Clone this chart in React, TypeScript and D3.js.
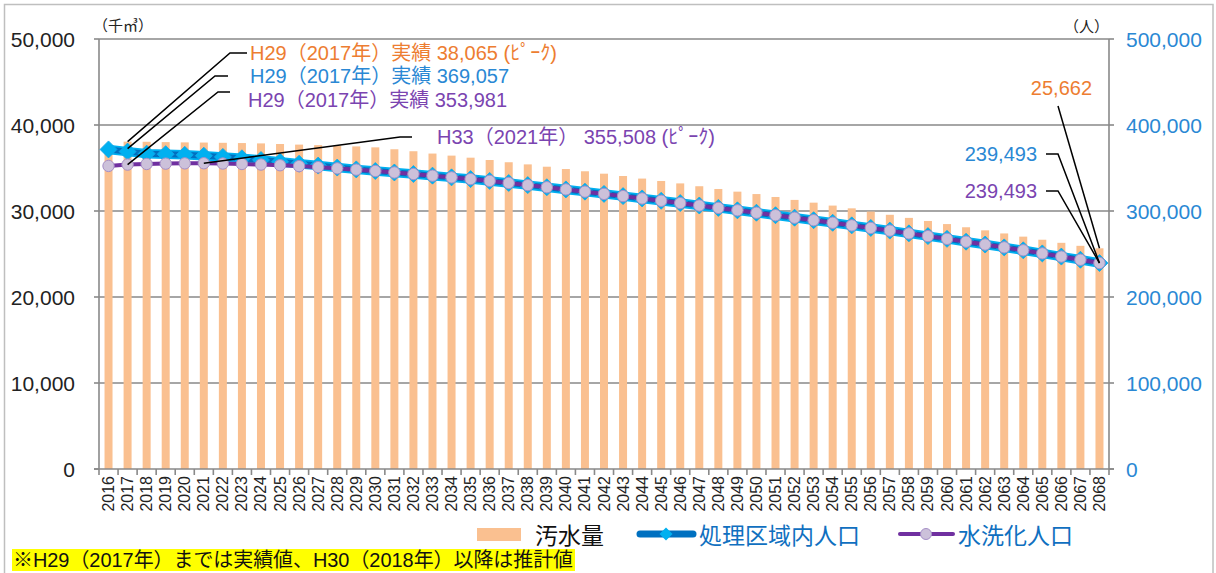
import React from 'react';
import * as d3 from 'd3';

const years = [
  '2016','2017','2018','2019','2020','2021','2022','2023','2024','2025',
  '2026','2027','2028','2029','2030','2031','2032','2033','2034','2035',
  '2036','2037','2038','2039','2040','2041','2042','2043','2044','2045',
  '2046','2047','2048','2049','2050','2051','2052','2053','2054','2055',
  '2056','2057','2058','2059','2060','2061','2062','2063','2064','2065',
  '2066','2067','2068'
];

// 汚水量 (千㎥)
const sewage = [
  37600, 38065, 38050, 38010, 37980, 37960, 37930, 37900, 37860, 37790,
  37720, 37660, 37590, 37510, 37400, 37180, 36950, 36680, 36440, 36200,
  35930, 35670, 35420, 35150, 34880, 34620, 34340, 34070, 33770, 33490,
  33210, 32880, 32560, 32250, 31970, 31630, 31290, 30970, 30630, 30310,
  29930, 29560, 29200, 28840, 28480, 28110, 27750, 27390, 27020, 26660,
  26300, 25950, 25662
];

// 処理区域内人口 (人)
const servicePop = [
  371600, 369057, 366700, 366100, 365300, 364300, 362900, 361300, 359300, 357200,
  355000, 352800, 350500, 348400, 346500, 344800, 343000, 341100, 339100, 337100,
  335000, 332600, 330100, 327600, 325100, 322500, 319900, 317300, 314600, 311900,
  309200, 306400, 303600, 300800, 298000, 295100, 292200, 289300, 286300, 283300,
  280300, 277200, 274000, 270800, 267600, 264300, 261000, 257700, 254300, 250700,
  247000, 243300, 239493
];

// 水洗化人口 (人)
const flushPop = [
  352400, 353981, 354700, 355100, 355400, 355508, 355200, 354700, 354000, 353200,
  352200, 351000, 349600, 348100, 346500, 344800, 343000, 341100, 339100, 337100,
  335000, 332600, 330100, 327600, 325100, 322500, 319900, 317300, 314600, 311900,
  309200, 306400, 303600, 300800, 298000, 295100, 292200, 289300, 286300, 283300,
  280300, 277200, 274000, 270800, 267600, 264300, 261000, 257700, 254300, 250700,
  247000, 243300, 239493
];

const leftTicks = [0, 10000, 20000, 30000, 40000, 50000];
const rightTicks = [0, 100000, 200000, 300000, 400000, 500000];

const C = {
  bar: '#fac090',
  grid: '#898989',
  orange: '#ed7d31',
  blueText: '#2a88d4',
  purpleText: '#7a44b0',
  lineBlue: '#0070c0',
  lightBlue: '#00b0f0',
  purple: '#7030a0',
  lavender: '#ccc1da',
  legendBlue: '#1070c0',
};

const NUM = '"Liberation Sans", Arial, "Noto Sans CJK JP", sans-serif';
const JP = '"Liberation Sans", Arial, "Noto Sans CJK JP", sans-serif';
const JPONLY = '"Noto Sans CJK JP", sans-serif';

export default function App() {
  const W = 1216, H = 573;
  const x = d3.scaleBand<string>().domain(years).range([99, 1109]).padding(0);
  const yL = d3.scaleLinear().domain([0, 50000]).range([469, 39]);
  const yR = d3.scaleLinear().domain([0, 500000]).range([469, 39]);
  const bw = x.bandwidth();
  const cx = (i: number) => (x(years[i]) as number) + bw / 2;
  const fmt = d3.format(',');
  const barW = 8;

  const lineR = d3.line<number>().x((_, i) => cx(i)).y((d) => yR(d));
  const dPath = (px: number, py: number, r: number) =>
    `M${px},${py - r}L${px + r},${py}L${px},${py + r}L${px - r},${py}Z`;

  const last = years.length - 1;

  return (
    <svg width={W} height={H} style={{ position: 'absolute', left: 0, top: 0, background: '#fff' }}>
      <rect x={0} y={0} width={W} height={H} fill="#fff" />
      <rect x={4.5} y={4.5} width={1208.5} height={590} fill="none" stroke="#bfbfbf" strokeWidth={1.5} />

      {/* units */}
      <text x={93} y={24} fontSize={15} fontFamily={JPONLY} dominantBaseline="central" fill="#222">（千㎥）</text>
      <text x={1064} y={25} fontSize={15} fontFamily={JPONLY} dominantBaseline="central" fill="#222">（人）</text>

      {/* gridlines */}
      {leftTicks.filter((t) => t > 0).map((t) => (
        <line key={'g' + t} x1={99} x2={1109} y1={yL(t)} y2={yL(t)} stroke={C.grid} strokeWidth={1.6} />
      ))}

      {/* left axis */}
      <line x1={99} x2={99} y1={yL(50000)} y2={yL(0)} stroke={C.grid} strokeWidth={1.6} />
      {leftTicks.map((t) => (
        <g key={'l' + t}>
          <line x1={94} x2={99} y1={yL(t)} y2={yL(t)} stroke={C.grid} strokeWidth={1.6} />
          <text x={75} y={yL(t)} textAnchor="end" dominantBaseline="central" fontSize={21} fontFamily={NUM} fill="#222">
            {fmt(t)}
          </text>
        </g>
      ))}

      {/* right axis */}
      <line x1={1109} x2={1109} y1={yR(500000)} y2={yR(0)} stroke={C.grid} strokeWidth={1.6} />
      {rightTicks.map((t) => (
        <g key={'r' + t}>
          <line x1={1109} x2={1114} y1={yR(t)} y2={yR(t)} stroke={C.grid} strokeWidth={1.6} />
          <text x={1126} y={yR(t)} textAnchor="start" dominantBaseline="central" fontSize={21} fontFamily={NUM} fill={C.blueText}>
            {fmt(t)}
          </text>
        </g>
      ))}

      {/* bars */}
      {sewage.map((v, i) => (
        <rect key={'b' + i} x={cx(i) - barW / 2} y={yL(v)} width={barW} height={yL(0) - yL(v)} fill={C.bar} />
      ))}

      {/* bottom axis */}
      <line x1={94} x2={1114} y1={yL(0)} y2={yL(0)} stroke={C.grid} strokeWidth={1.6} />
      {years.map((y) => (
        <line key={'t' + y} x1={x(y) as number} x2={x(y) as number} y1={469} y2={475} stroke={C.grid} strokeWidth={1.6} />
      ))}
      <line x1={1109} x2={1109} y1={469} y2={475} stroke={C.grid} strokeWidth={1.6} />
      {years.map((y, i) => (
        <text key={'xl' + y} transform={`translate(${cx(i)},476) rotate(-90)`} textAnchor="end" dominantBaseline="central"
          fontSize={16} fontFamily={NUM} fill="#222">{y}</text>
      ))}

      {/* 処理区域内人口 */}
      <path d={lineR(servicePop) || ''} fill="none" stroke={C.lightBlue} strokeWidth={9.5} strokeLinejoin="round" />
      <path d={lineR(servicePop) || ''} fill="none" stroke={C.lineBlue} strokeWidth={6} strokeLinejoin="round" />
      {servicePop.map((v, i) => (
        <path key={'d' + i} d={dPath(cx(i), yR(v), 8.5)} fill={C.lightBlue} stroke="#14a6e6" strokeWidth={0.8} />
      ))}

      {/* 水洗化人口 */}
      <path d={lineR(flushPop) || ''} fill="none" stroke={C.purple} strokeWidth={4} strokeLinejoin="round" />
      {flushPop.map((v, i) => (
        <circle key={'c' + i} cx={cx(i)} cy={yR(v)} r={5.7} fill={C.lavender} stroke="#a58fc7" strokeWidth={1} />
      ))}

      {/* leader lines */}
      <g fill="none" stroke="#000" strokeWidth={1.5}>
        <path d={`M247,53H230L${cx(1)},${yL(sewage[1])}`} />
        <path d={`M228,76H215L${cx(1)},${yR(servicePop[1]) - 3}`} />
        <path d={`M230,92H218L${cx(1)},${yR(flushPop[1])}`} />
        <path d={`M412,137H400L${cx(5)},${yR(flushPop[5])}`} />
        <path d={`M1058,106L${cx(last)},${yL(sewage[last])}`} />
        <path d={`M1046,154H1058L${cx(last)},${yR(servicePop[last])}`} />
        <path d={`M1046,191H1058L${cx(last)},${yR(flushPop[last])}`} />
      </g>

      {/* annotations */}
      <text x={250} y={53} fontSize={20} fontFamily={JP} fill={C.orange} dominantBaseline="central">
        {`H29（2017年）実績 ${fmt(sewage[1])} (ﾋﾟｰｸ)`}
      </text>
      <text x={250} y={76} fontSize={20} fontFamily={JP} fill={C.blueText} dominantBaseline="central">
        {`H29（2017年）実績 ${fmt(servicePop[1])}`}
      </text>
      <text x={248} y={100} fontSize={20} fontFamily={JP} fill={C.purpleText} dominantBaseline="central">
        {`H29（2017年）実績 ${fmt(flushPop[1])}`}
      </text>
      <text x={437} y={137} fontSize={20} fontFamily={JP} fill={C.purpleText} dominantBaseline="central">
        {`H33（2021年） ${fmt(flushPop[5])} (ﾋﾟｰｸ)`}
      </text>
      <text x={1092} y={88} fontSize={20} fontFamily={JP} fill={C.orange} dominantBaseline="central" textAnchor="end">
        {fmt(sewage[last])}
      </text>
      <text x={1037} y={154} fontSize={20} fontFamily={JP} fill={C.blueText} dominantBaseline="central" textAnchor="end">
        {fmt(servicePop[last])}
      </text>
      <text x={1037} y={191} fontSize={20} fontFamily={JP} fill={C.purpleText} dominantBaseline="central" textAnchor="end">
        {fmt(flushPop[last])}
      </text>

      {/* legend */}
      <rect x={477} y={528} width={44} height={13} fill={C.bar} />
      <text x={535} y={534} fontSize={23} fontFamily={JPONLY} fill="#111" dominantBaseline="central">汚水量</text>

      <line x1={640} x2={693} y1={534} y2={534} stroke={C.lineBlue} strokeWidth={7} strokeLinecap="round" />
      <path d={dPath(666, 534, 6.5)} fill={C.lightBlue} />
      <text x={699} y={534} fontSize={23} fontFamily={JPONLY} fill={C.legendBlue} dominantBaseline="central">処理区域内人口</text>

      <line x1={900} x2={953} y1={534} y2={534} stroke={C.purple} strokeWidth={4} strokeLinecap="round" />
      <circle cx={926} cy={534} r={5.5} fill={C.lavender} stroke="#a58fc7" strokeWidth={1} />
      <text x={958} y={534} fontSize={23} fontFamily={JPONLY} fill={C.legendBlue} dominantBaseline="central">水洗化人口</text>

      {/* note */}
      <rect x={12} y={549} width={563} height={22} fill="#ffff00" />
      <text x={13} y={560} fontSize={20} fontFamily={JP} fill="#111" dominantBaseline="central" textLength={560} lengthAdjust="spacingAndGlyphs">
        ※H29（2017年）までは実績値、H30（2018年）以降は推計値
      </text>
    </svg>
  );
}
